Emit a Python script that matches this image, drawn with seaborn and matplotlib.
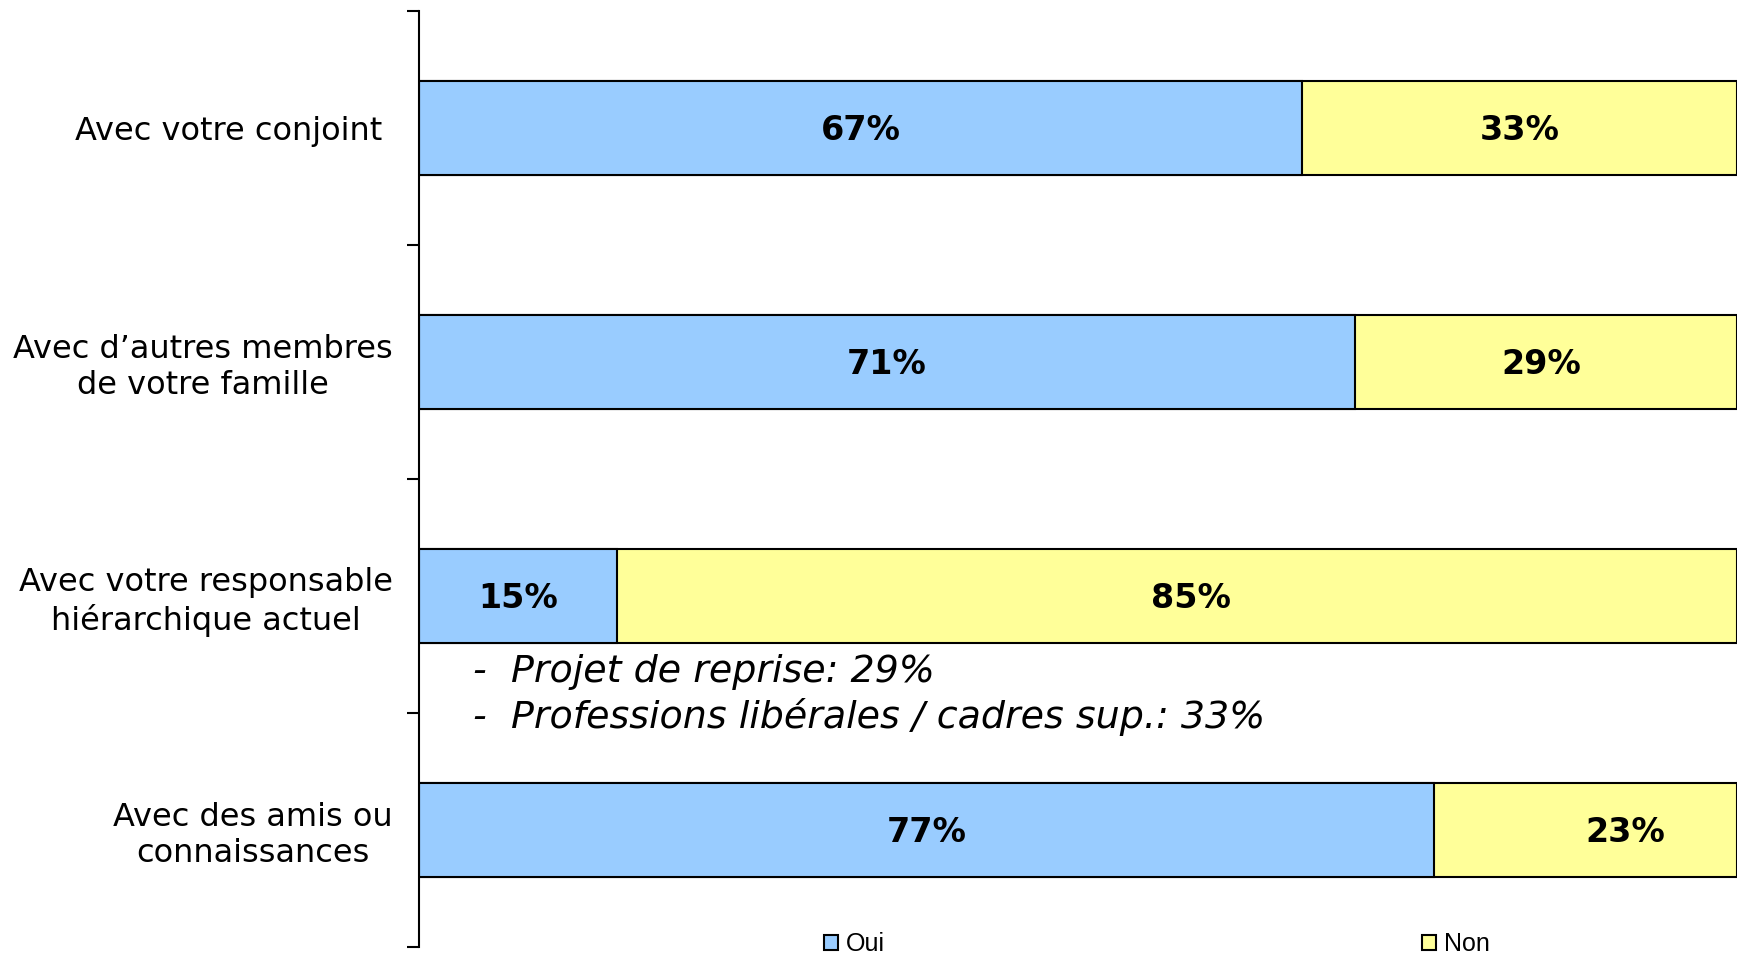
import matplotlib
matplotlib.use("Agg")
import matplotlib.pyplot as plt
from matplotlib.patches import Patch
import seaborn as sns
import pandas as pd

categories = ["Avec votre conjoint ",
              "Avec d\u2019autres membres\nde votre famille",
              "Avec votre responsable\nhi\u00e9rarchique actuel",
              "Avec des amis ou\nconnaissances"]
oui = [67, 71, 15, 77]
non = [33, 29, 85, 23]
series_names = ["Oui", "Non"]
note_lines = ["-  Projet de reprise: 29%",
              "-  Professions lib\u00e9rales / cadres sup.: 33%"]

BLUE = "#99CCFF"
YELLOW = "#FFFF99"
# small horizontal nudges (in points) of the "Non" value labels, as in the original
non_label_nudge_pt = [0, -3, 10, 29]

sns.set_style("white")
plt.rcParams["font.family"] = ["DejaVu Sans"]
plt.rcParams["text.color"] = "black"
plt.rcParams["ytick.color"] = "black"
plt.rcParams["ytick.labelcolor"] = "black"

df = pd.DataFrame({"cat": categories, "Oui": oui, "Non": non})
df["total"] = df["Oui"] + df["Non"]

fig = plt.figure(figsize=(17.37, 9.57), dpi=100)
ax = fig.add_axes([419 / 1737, 10 / 957, 1 - 419 / 1737, 936 / 957])

sns.barplot(data=df, x="total", y="cat", orient="h", color=YELLOW, saturation=1,
            edgecolor="black", linewidth=1.5, width=0.4, ax=ax)
sns.barplot(data=df, x="Oui", y="cat", orient="h", color=BLUE, saturation=1,
            edgecolor="black", linewidth=1.5, width=0.4, ax=ax)

ax.set_xlim(0, 100)
ax.set_ylim(len(categories) - 0.5, -0.5)
ax.set_xlabel("")
ax.set_ylabel("")
ax.set_xticks([])

for i, (o, n) in enumerate(zip(oui, non)):
    ax.annotate(f"{o}%", xy=(o / 2, i), xytext=(0, -2), textcoords="offset points",
                ha="center", va="center", fontsize=24, fontweight="bold")
    ax.annotate(f"{n}%", xy=(o + n / 2, i), xytext=(non_label_nudge_pt[i], -2),
                textcoords="offset points", ha="center", va="center",
                fontsize=24, fontweight="bold")

ax.set_yticks(range(len(categories)))
ax.set_yticklabels(categories, fontsize=23, multialignment="center")
ax.tick_params(axis="y", which="major", length=0, pad=19)
ax.set_yticks([i - 0.5 for i in range(len(categories) + 1)], minor=True)
ax.tick_params(axis="y", which="minor", length=9, width=1.5, color="black", direction="out", left=True)

for s in ["top", "right", "bottom"]:
    ax.spines[s].set_visible(False)
ax.spines["left"].set_color("black")
ax.spines["left"].set_linewidth(1.5)

ax.text(4.1, 2.325, note_lines[0], fontsize=27.4, style="italic", ha="left", va="center")
ax.text(4.1, 2.515, note_lines[1], fontsize=27.4, style="italic", ha="left", va="center")

handles = [Patch(facecolor=BLUE, edgecolor="black", linewidth=1.5),
           Patch(facecolor=YELLOW, edgecolor="black", linewidth=1.5)]
leg = fig.legend(handles, series_names, loc="center", bbox_to_anchor=(1157 / 1737, 1 - 944 / 957),
                 ncol=2, frameon=False, handlelength=0.56, handleheight=0.56,
                 handletextpad=0.3, columnspacing=21.5,
                 prop={"family": ["Liberation Sans", "DejaVu Sans"], "size": 18})

fig.savefig("out.png", dpi=100)
